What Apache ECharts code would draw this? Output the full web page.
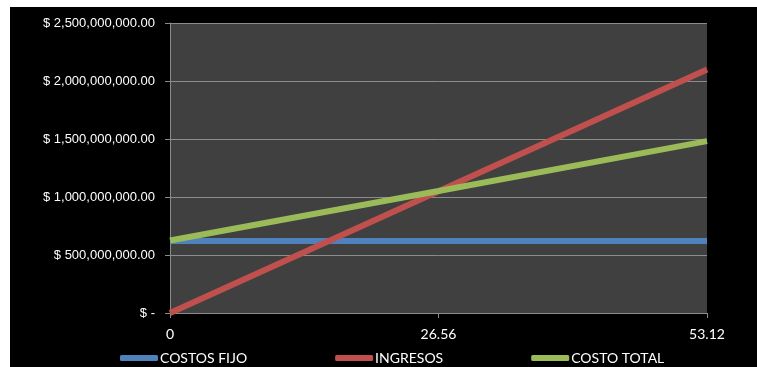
<!DOCTYPE html>
<html>
<head>
<meta charset="utf-8">
<script src="https://cdn.jsdelivr.net/npm/echarts@6/dist/echarts.min.js"></script>
<style>
html,body{margin:0;padding:0;background:#ffffff;width:757px;height:367px;overflow:hidden;}
#chart{position:absolute;left:10px;top:7px;width:747px;height:360px;}
</style>
</head>
<body>
<div id="chart"></div>
<script>
const categories = ['0', '26.56', '53.12'];
const costosFijo = [620000000, 620000000, 620000000];
const ingresos = [0, 1050000000, 2100000000];
const costoTotal = [625000000, 1052000000, 1482000000];
const seriesNames = ['COSTOS FIJO', 'INGRESOS', 'COSTO TOTAL'];
const seriesColors = ['#4F81BD', '#C0504D', '#9BBB59'];

const chart = echarts.init(document.getElementById('chart'));
const dataSets = [costosFijo, ingresos, costoTotal];
chart.setOption({
  backgroundColor: '#000000',
  animation: false,
  grid: {
    left: 160, right: 50, top: 16, bottom: 54,
    show: true, backgroundColor: '#404040', borderWidth: 0
  },
  legend: {
    left: 110, top: 344, padding: 0,
    icon: 'roundRect', itemWidth: 38, itemHeight: 6, itemGap: 88,
    textStyle: { color: '#ffffff', fontFamily: 'Lato', fontSize: 14, padding: [0, 0, 0, -3] },
    data: seriesNames
  },
  xAxis: {
    type: 'category', data: categories, boundaryGap: false,
    axisLine: { show: true, lineStyle: { color: '#8c8c8c', width: 1 } },
    axisTick: { show: true, length: 5, lineStyle: { color: '#8c8c8c' } },
    axisLabel: { color: '#ffffff', fontFamily: 'Lato', fontSize: 14, margin: 14 },
    splitLine: { show: false }
  },
  yAxis: {
    type: 'value', min: 0, max: 2500000000, interval: 500000000,
    axisLine: { show: true, lineStyle: { color: '#8c8c8c', width: 1 } },
    axisTick: { show: true, length: 5, lineStyle: { color: '#8c8c8c' } },
    axisLabel: {
      color: '#ffffff', fontFamily: 'Liberation Sans', fontSize: 13, margin: 15,
      formatter: v => v === 0 ? '$ -' : '$ ' + v.toLocaleString('en-US', { minimumFractionDigits: 2, maximumFractionDigits: 2 })
    },
    splitLine: { show: true, lineStyle: { color: '#8c8c8c', width: 1 } }
  },
  series: seriesNames.map((n, i) => ({
    name: n, type: 'line', data: dataSets[i], symbol: 'none',
    color: seriesColors[i],
    lineStyle: { width: 6, color: seriesColors[i] }
  }))
});
</script>
</body>
</html>
